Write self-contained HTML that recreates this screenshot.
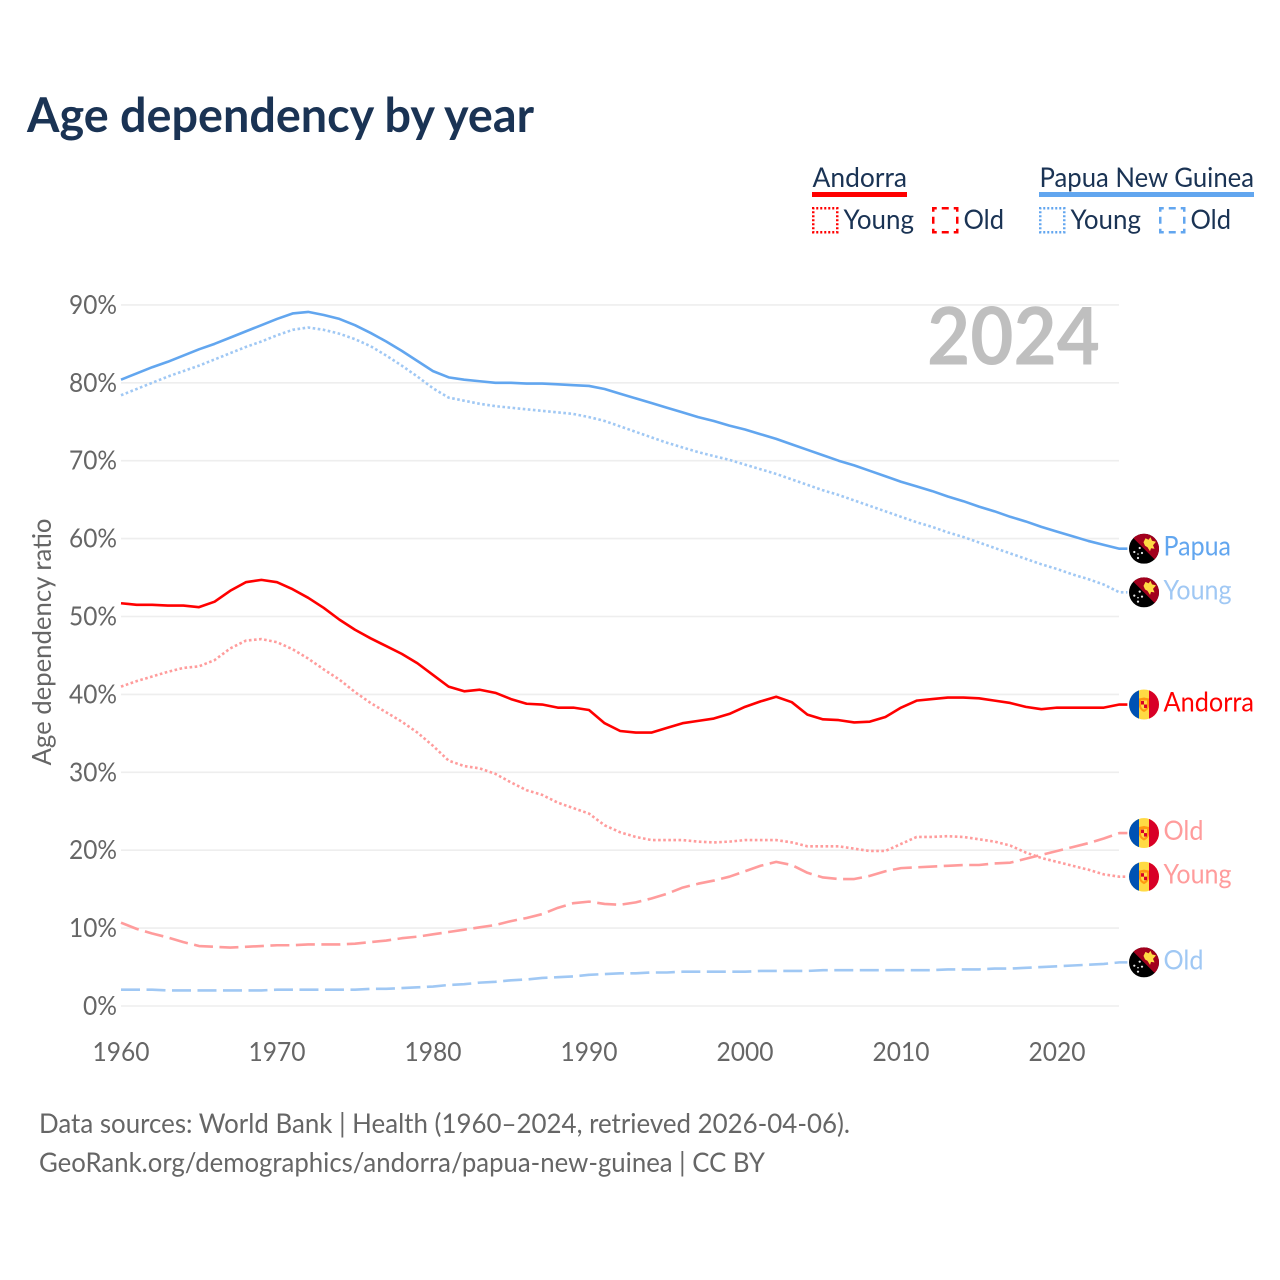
<!DOCTYPE html>
<html lang="en">
<head>
<meta charset="utf-8">
<title>Age dependency by year</title>
<style>
html,body{margin:0;padding:0;background:#fff;width:1280px;height:1280px;overflow:hidden}
svg{display:block}
text{font-family:"Lato","Carlito","Liberation Sans",sans-serif}
</style>
</head>
<body>
<svg id="chart" xmlns="http://www.w3.org/2000/svg" width="1280" height="1280" viewBox="0 0 1280 1280">
  <defs>
    <clipPath id="flag-clip"><circle cx="0" cy="0" r="15"/></clipPath>
    <symbol id="flag-ad" overflow="visible" viewBox="-15 -15 30 30">
      <g clip-path="url(#flag-clip)">
        <rect x="-15" y="-15" width="30" height="30" fill="#ffda44"/>
        <rect x="-15" y="-15" width="10" height="30" fill="#0052b4"/>
        <rect x="5" y="-15" width="10" height="30" fill="#d80027"/>
        <path d="M-5 -6L0 -7L5 -6V1.5Q4.5 5.5 0 7.5Q-4.5 5.5 -5 1.5Z" fill="#ff9811"/>
        <path d="M-3 -4H3V1Q3 3.5 0 5Q-3 3.5 -3 1Z" fill="#ffda44"/>
        <rect x="-3" y="-3.5" width="3" height="3.5" fill="#d80027"/>
        <rect x="0" y="0" width="3" height="3.5" fill="#d80027"/>
      </g>
    </symbol>
    <symbol id="flag-pg" overflow="visible" viewBox="-15 -15 30 30">
      <g clip-path="url(#flag-clip)">
        <rect x="-15" y="-15" width="30" height="30" fill="#000"/>
        <path d="M-12 -12L12 12L18 6V-18H-6Z" fill="#a2001d"/>
        <path d="M-0.5 -6.5L1.5 -10.5L4.5 -9L6.5 -11.5L8 -8L12 -7L9 -3.5L10.5 0L7 -0.5L6 2.5L3.5 -1.5L1 -3Z" fill="#ffda44"/>
        <circle cx="-9.7" cy="3.3" r="1.1" fill="#e8e8e8"/>
        <circle cx="-4.3" cy="-0.7" r="1.1" fill="#e8e8e8"/>
        <circle cx="-2" cy="4.3" r="1.1" fill="#e8e8e8"/>
        <circle cx="-6" cy="5.3" r="0.8" fill="#e8e8e8"/>
        <circle cx="-6" cy="9.3" r="1.1" fill="#e8e8e8"/>
      </g>
    </symbol>
  </defs>

  <text x="27" y="132" font-size="48" font-weight="700" fill="#1a3354" textLength="507" lengthAdjust="spacingAndGlyphs">Age dependency by year</text>

  <g>
    <g>
      <text x="812.5" y="187" font-size="27.5" fill="#1a3354" textLength="94.5" lengthAdjust="spacingAndGlyphs">Andorra</text>
      <rect x="812" y="192" width="95" height="5" fill="#ff0000"/>
      <rect x="813.25" y="208.25" width="24" height="24" fill="none" stroke="#ff0000" stroke-width="2.5" stroke-dasharray="2 2" stroke-dashoffset="1"/>
      <text x="843.5" y="229" font-size="27.5" fill="#1a3354" textLength="70.5" lengthAdjust="spacingAndGlyphs">Young</text>
      <rect x="933.25" y="208.25" width="24" height="24" fill="none" stroke="#ff0000" stroke-width="2.5" stroke-dasharray="7 5" stroke-dashoffset="3.5"/>
      <text x="963.5" y="229" font-size="27.5" fill="#1a3354" textLength="40.5" lengthAdjust="spacingAndGlyphs">Old</text>
    </g>
    <g>
      <text x="1039.5" y="187" font-size="27.5" fill="#1a3354" textLength="214.5" lengthAdjust="spacingAndGlyphs">Papua New Guinea</text>
      <rect x="1039" y="192" width="215" height="5" fill="#62a6ef"/>
      <rect x="1040.25" y="208.25" width="24" height="24" fill="none" stroke="#62a6ef" stroke-width="2.5" stroke-dasharray="2 2" stroke-dashoffset="1"/>
      <text x="1070.5" y="229" font-size="27.5" fill="#1a3354" textLength="70.5" lengthAdjust="spacingAndGlyphs">Young</text>
      <rect x="1160.25" y="208.25" width="24" height="24" fill="none" stroke="#62a6ef" stroke-width="2.5" stroke-dasharray="7 5" stroke-dashoffset="3.5"/>
      <text x="1190.5" y="229" font-size="27.5" fill="#1a3354" textLength="40.5" lengthAdjust="spacingAndGlyphs">Old</text>
    </g>
  </g>

  <g id="grid"></g>
  <g id="y-ticks"></g>
  <g id="x-ticks"></g>

  <text transform="translate(51 642) rotate(-90)" text-anchor="middle" font-size="26.5" fill="#666" textLength="247" lengthAdjust="spacingAndGlyphs">Age dependency ratio</text>

  <text x="927" y="364.5" font-size="80" font-weight="700" fill="#bfbfbf" textLength="173" lengthAdjust="spacingAndGlyphs">2024</text>

  <g id="series"></g>
  <g id="end-labels"></g>

  <text x="39" y="1133" font-size="27" fill="#666" textLength="811" lengthAdjust="spacingAndGlyphs">Data sources: World Bank | Health (1960–2024, retrieved 2026-04-06).</text>
  <text x="39" y="1172" font-size="27" fill="#666" textLength="726" lengthAdjust="spacingAndGlyphs">GeoRank.org/demographics/andorra/papua-new-guinea | CC BY</text>
</svg>

<script>
const firstYear = 1960;
const yTickValues = [0, 10, 20, 30, 40, 50, 60, 70, 80, 90];
const xTickYears = [1960, 1970, 1980, 1990, 2000, 2010, 2020];

const papuaTotal = [80.4,81.2,82.0,82.7,83.5,84.3,85.0,85.8,86.6,87.4,88.2,88.9,89.1,88.7,88.2,87.4,86.4,85.3,84.1,82.8,81.5,80.7,80.4,80.2,80.0,80.0,79.9,79.9,79.8,79.7,79.6,79.2,78.6,78.0,77.4,76.8,76.2,75.6,75.1,74.5,74.0,73.4,72.8,72.1,71.4,70.7,70.0,69.4,68.7,68.0,67.3,66.7,66.1,65.4,64.8,64.1,63.5,62.8,62.2,61.5,60.9,60.3,59.7,59.2,58.7];
const papuaYoung = [78.4,79.2,80.0,80.8,81.5,82.2,83.0,83.8,84.6,85.3,86.1,86.8,87.1,86.8,86.3,85.6,84.7,83.5,82.2,80.8,79.3,78.1,77.7,77.3,77.0,76.8,76.6,76.4,76.2,76.0,75.6,75.1,74.4,73.7,73.0,72.3,71.7,71.1,70.6,70.1,69.5,68.9,68.3,67.6,66.9,66.2,65.6,64.9,64.2,63.5,62.8,62.1,61.5,60.8,60.2,59.5,58.8,58.1,57.4,56.7,56.1,55.4,54.8,54.1,53.1];
const papuaOld = [2.1,2.1,2.1,2.0,2.0,2.0,2.0,2.0,2.0,2.0,2.1,2.1,2.1,2.1,2.1,2.1,2.2,2.2,2.3,2.4,2.5,2.7,2.8,3.0,3.1,3.3,3.4,3.6,3.7,3.8,4.0,4.1,4.2,4.2,4.3,4.3,4.4,4.4,4.4,4.4,4.4,4.5,4.5,4.5,4.5,4.6,4.6,4.6,4.6,4.6,4.6,4.6,4.6,4.7,4.7,4.7,4.8,4.8,4.9,5.0,5.1,5.2,5.3,5.4,5.6];
const andorraTotal = [51.7,51.5,51.5,51.4,51.4,51.2,51.9,53.3,54.4,54.7,54.4,53.5,52.4,51.1,49.6,48.3,47.2,46.2,45.2,44.0,42.5,41.0,40.4,40.6,40.2,39.4,38.8,38.7,38.3,38.3,38.0,36.3,35.3,35.1,35.1,35.7,36.3,36.6,36.9,37.5,38.4,39.1,39.7,39.0,37.4,36.8,36.7,36.4,36.5,37.1,38.3,39.2,39.4,39.6,39.6,39.5,39.2,38.9,38.4,38.1,38.3,38.3,38.3,38.3,38.7];
const andorraYoung = [41.0,41.7,42.3,42.9,43.4,43.6,44.4,45.9,46.9,47.1,46.7,45.8,44.6,43.2,41.9,40.3,38.9,37.7,36.5,35.1,33.4,31.5,30.8,30.5,29.8,28.7,27.7,27.1,26.1,25.4,24.7,23.2,22.3,21.7,21.3,21.3,21.3,21.1,21.0,21.1,21.3,21.3,21.3,21.0,20.5,20.5,20.5,20.2,19.9,19.9,20.8,21.7,21.7,21.8,21.7,21.4,21.1,20.6,19.7,19.0,18.5,18.0,17.5,16.9,16.6];
const andorraOld = [10.7,9.9,9.3,8.8,8.2,7.7,7.6,7.5,7.6,7.7,7.8,7.8,7.9,7.9,7.9,8.0,8.2,8.4,8.7,8.9,9.2,9.5,9.8,10.1,10.4,10.9,11.3,11.8,12.6,13.2,13.4,13.1,13.0,13.3,13.8,14.4,15.2,15.7,16.1,16.6,17.3,18.0,18.5,18.1,17.1,16.5,16.3,16.3,16.7,17.3,17.7,17.8,17.9,18.0,18.1,18.1,18.3,18.4,18.9,19.4,19.9,20.4,20.9,21.5,22.2];

const seriesList = [
  {key:'papua-old', values:papuaOld, color:'#a0c8f4', dash:'19 6.5', flag:'flag-pg', label:'Old', labelColor:'#a0c8f4'},
  {key:'andorra-old', values:andorraOld, color:'#ff9c9c', dash:'19 6.5', flag:'flag-ad', label:'Old', labelColor:'#ff9c9c'},
  {key:'andorra-young', values:andorraYoung, color:'#ff9c9c', dash:'2.6 2.5', flag:'flag-ad', label:'Young', labelColor:'#ff9c9c'},
  {key:'papua-young', values:papuaYoung, color:'#a0c8f4', dash:'2.6 2.5', flag:'flag-pg', label:'Young', labelColor:'#a0c8f4'},
  {key:'andorra-total', values:andorraTotal, color:'#ff0000', dash:null, flag:'flag-ad', label:'Andorra', labelColor:'#ff0000'},
  {key:'papua-total', values:papuaTotal, color:'#62a6ef', dash:null, flag:'flag-pg', label:'Papua', labelColor:'#62a6ef'}
];

const SVG_NS = 'http://www.w3.org/2000/svg';
function xScale(year){ return 121 + (year - 1960) * 15.6; }
function yScale(v){ return 1006 - v * 7.79; }

const gridG = document.getElementById('grid');
const yTicksG = document.getElementById('y-ticks');
const xTicksG = document.getElementById('x-ticks');
const seriesG = document.getElementById('series');
const labelsG = document.getElementById('end-labels');
const lastX = xScale(2024);

yTickValues.forEach(function(v){
  const line = document.createElementNS(SVG_NS, 'line');
  
  
  line.setAttribute('x1', 121);
  line.setAttribute('x2', 1119);
  line.setAttribute('y1', yScale(v));
  line.setAttribute('y2', yScale(v));
  line.setAttribute('stroke', '#eeeeee');
  line.setAttribute('stroke-width', 1.6);
  gridG.appendChild(line);

  const t = document.createElementNS(SVG_NS, 'text');
  
  
  t.setAttribute('x', 117);
  t.setAttribute('y', yScale(v) + 9);
  t.setAttribute('text-anchor', 'end');
  t.setAttribute('font-size', 26.5);
  t.setAttribute('fill', '#666');
  t.setAttribute('textLength', v === 0 ? 34 : 48);
  t.setAttribute('lengthAdjust', 'spacingAndGlyphs');
  t.textContent = v + '%';
  yTicksG.appendChild(t);
});

xTickYears.forEach(function(y){
  const t = document.createElementNS(SVG_NS, 'text');
  
  
  t.setAttribute('x', xScale(y));
  t.setAttribute('y', 1061);
  t.setAttribute('text-anchor', 'middle');
  t.setAttribute('font-size', 26.5);
  t.setAttribute('fill', '#666');
  t.setAttribute('textLength', 57);
  t.setAttribute('lengthAdjust', 'spacingAndGlyphs');
  t.textContent = y;
  xTicksG.appendChild(t);
});

seriesList.forEach(function(s){
  const pts = s.values.map(function(v, i){
    return xScale(firstYear + i).toFixed(2) + ' ' + yScale(v).toFixed(2);
  });
  const endY = yScale(s.values[s.values.length - 1]);
  const path = document.createElementNS(SVG_NS, 'path');
  
  
  path.setAttribute('d', 'M' + pts.join('L') + 'L' + (lastX + 8).toFixed(2) + ' ' + endY.toFixed(2));
  path.setAttribute('fill', 'none');
  path.setAttribute('stroke', s.color);
  path.setAttribute('stroke-width', 2.6);
  path.setAttribute('stroke-linejoin', 'round');
  if (s.dash) path.setAttribute('stroke-dasharray', s.dash);
  seriesG.appendChild(path);

  const flag = document.createElementNS(SVG_NS, 'use');
  
  
  flag.setAttribute('href', '#' + s.flag);
  flag.setAttribute('x', 1129);
  flag.setAttribute('y', endY - 15);
  flag.setAttribute('width', 30);
  flag.setAttribute('height', 30);
  labelsG.appendChild(flag);

  const lab = document.createElementNS(SVG_NS, 'text');
  
  
  lab.setAttribute('x', 1163.5);
  lab.setAttribute('y', endY + 7);
  lab.setAttribute('font-size', 27.5);
  lab.setAttribute('fill', s.labelColor);
  const widths = {Old: 40, Young: 68, Papua: 67.5, Andorra: 90.5};
  lab.setAttribute('textLength', widths[s.label]);
  lab.setAttribute('lengthAdjust', 'spacingAndGlyphs');
  lab.textContent = s.label;
  labelsG.appendChild(lab);
});
</script>
</body>
</html>
